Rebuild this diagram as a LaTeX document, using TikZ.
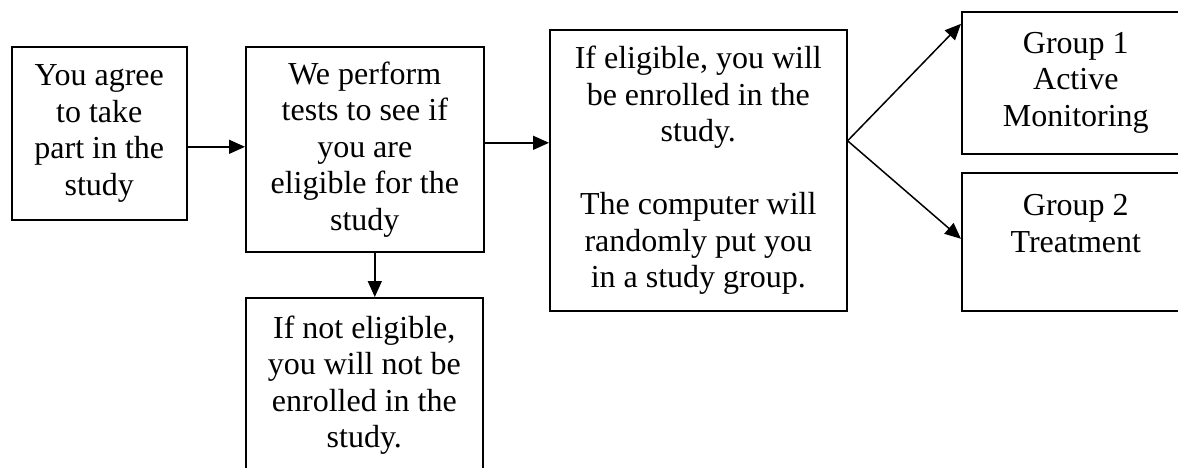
\documentclass[tikz,border=0pt]{standalone}
\usepackage{fontspec}
\setmainfont{Liberation Serif}
\usetikzlibrary{arrows.meta}
\begin{document}
\begin{tikzpicture}[x=1pt,y=1pt,
  box/.style={draw,line width=1.6pt,anchor=north west,inner sep=0pt,align=center,
    font=\fontsize{32}{36.5}\selectfont},
  conn/.style={line width=1.5pt,-{Triangle[length=16pt,width=14pt]}}]
\useasboundingbox (0,0) rectangle (1178,-467);
\clip (0,0) rectangle (1178,-467);
\node[box,minimum width=175pt,minimum height=173pt] (b1) at (11,-46)
  {You agree\\to take\\part in the\\study};
\node[box,minimum width=238pt,minimum height=205pt] (b2) at (245,-46)
  {We perform\\tests to see if\\you are\\eligible for the\\study};
\node[box,minimum width=237pt,minimum height=175pt] (b3) at (245,-297)
  {If not eligible,\\you will not be\\enrolled in the\\study.};
\node[box,minimum width=297pt,minimum height=281pt] (b4) at (549,-29)
  {If eligible, you will\\be enrolled in the\\study.\\[36.5pt]The computer will\\randomly put you\\in a study group.};
\node[box,minimum width=240pt,minimum height=142pt] (b5) at (961,-11)
  {\hspace*{-12pt}Group 1\\\hspace*{-12pt}Active\\\hspace*{-12pt}Monitoring};
\node[box,minimum width=240pt,minimum height=138pt] (b6) at (961,-172)
  {\hspace*{-12pt}Group 2\\\hspace*{-12pt}Treatment\\\mbox{}};
\draw[conn] ([yshift=-13.5pt]b1.east) -- ([yshift=-13.5pt]b1.east -| b2.west);
\draw[conn] ([yshift=6.5pt]b2.east) -- ([yshift=6.5pt]b2.east -| b4.west);
\draw[conn] ([xshift=10pt]b2.south) -- ([xshift=10pt]b2.south |- b3.north);
\coordinate (fan) at ([yshift=29.5pt]b4.east);
\draw[conn] (fan) -- ([yshift=59pt]b5.west);
\draw[conn] (fan) -- ([yshift=3pt]b6.west);
\end{tikzpicture}
\end{document}
